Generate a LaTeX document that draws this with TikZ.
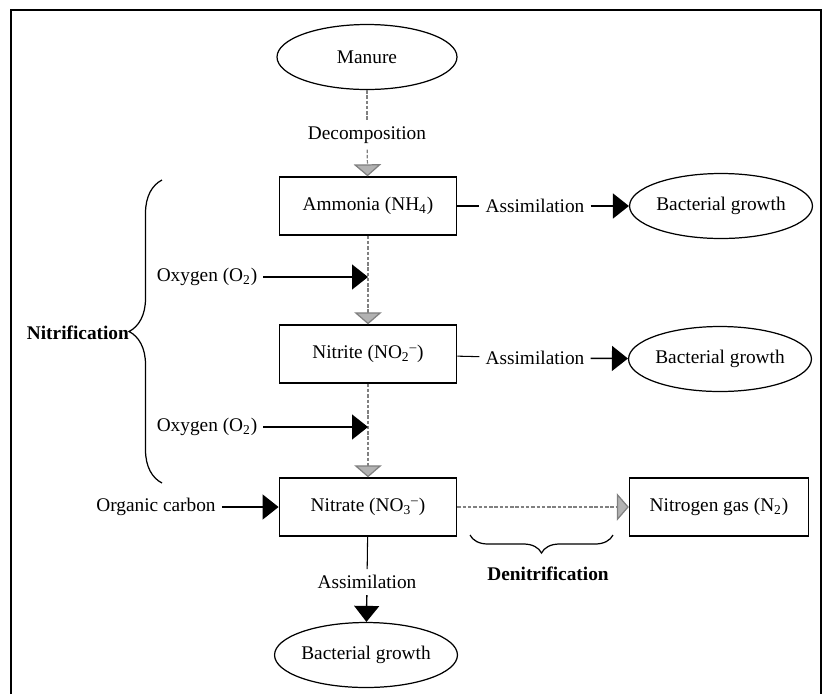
\documentclass[tikz,border=0pt]{standalone}
\usepackage{fontspec}
\setmainfont{Liberation Serif}
\usetikzlibrary{shapes.geometric, arrows.meta, decorations.pathreplacing, calc}

\begin{document}
\begin{tikzpicture}[x=0.02cm, y=-0.02cm,
        font=\fontsize{11}{13}\selectfont,
        box/.style={draw, line width=0.8pt, minimum width=3.55cm, minimum height=1.16cm},
        oval/.style={draw, ellipse, line width=0.7pt, inner sep=0pt, minimum width=3.6cm, minimum height=1.3cm},
        flow/.style={line width=0.6pt},
        feed/.style={line width=0.8pt, -{Triangle[length=0.32cm, width=0.5cm]}},
        grayline/.style={gray, line width=0.7pt, dash pattern=on 2pt off 1pt},
        graytip/.style={grayline, -{Triangle[length=0.24cm, width=0.55cm, fill=gray!60]}},
        bold/.style={font=\fontsize{11}{13}\selectfont\bfseries}]
        % 枠
        \useasboundingbox (0,0) rectangle (828,694);
        \draw[line width=1.4pt] (11,694) -- (11,10) -- (821,10) -- (821,694);

        % 中央の列
        \node[oval] (manure) at (367,57) {Manure};
        \node (decomp) at (367,135) {Decomposition};
        \node[box] (ammonia) at (368,206) {Ammonia (NH\textsubscript{4})};
        \node[box] (nitrite) at (368,354) {Nitrite (NO\textsubscript{2}\textsuperscript{--})};
        \node[box] (nitrate) at (368,507) {Nitrate (NO\textsubscript{3}\textsuperscript{--})};
        \node (assim3) at (367,582) {Assimilation};
        \node[oval] (bac3) at (366,655) {Bacterial growth};

        % 右側
        \node (assim1) at (535,206) {Assimilation};
        \node[oval] (bac1) at (721,206) {Bacterial growth};
        \node (assim2) at (535,358) {Assimilation};
        \node[oval] (bac2) at (720,359) {Bacterial growth};
        \node[box, minimum width=3.58cm] (n2gas) at (719,507) {Nitrogen gas (N\textsubscript{2})};

        % 左側
        \node (oxy1) at (207,277) {Oxygen (O\textsubscript{2})};
        \node (oxy2) at (207,427) {Oxygen (O\textsubscript{2})};
        \node (carbon) at (156,507) {Organic carbon};
        \node[bold, anchor=east, inner sep=1pt] (nitrif) at (131,333) {Nitrification};
        \node[bold] (denitrif) at (548,574) {Denitrification};

        \coordinate (o1) at (oxy1 -| ammonia.south);
        \coordinate (o2) at (oxy2 -| nitrite.south);

        % 矢印
        \draw[grayline] (manure) -- (decomp);
        \draw[graytip] (decomp) -- (ammonia);
        \draw[graytip] (ammonia) -- (nitrite);
        \draw[graytip] (nitrite) -- (nitrate);
        \draw[graytip] (nitrate) -- (n2gas);
        \draw[feed] (oxy1) -- (o1);
        \draw[feed] (oxy2) -- (o2);
        \draw[feed] (carbon) -- (nitrate);
        \draw[flow] (ammonia) -- (assim1);
        \draw[feed] (assim1) -- (bac1);
        \draw[flow] (nitrite) -- (assim2);
        \draw[feed] (assim2) -- (bac2);
        \draw[flow] (nitrate) -- (assim3);
        \draw[feed] (assim3) -- (bac3);

        % 括弧
        \draw[line width=0.7pt, decorate, decoration={brace, amplitude=0.66cm}] (162,483) -- (162,180);
        \draw[line width=0.7pt, decorate, decoration={brace, amplitude=0.36cm}] (613,535) -- (470,535);
    \end{tikzpicture}
\end{document}
